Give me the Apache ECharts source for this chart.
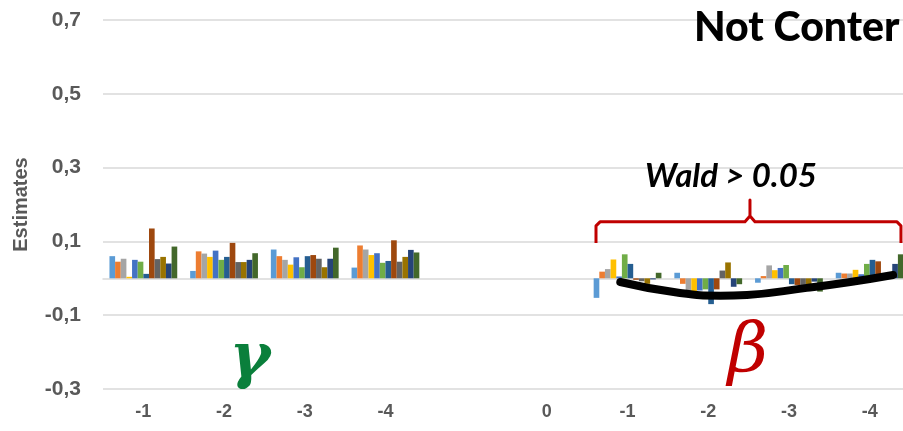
<!DOCTYPE html>
<html>
<head>
<meta charset="utf-8">
<script src="https://cdn.jsdelivr.net/npm/echarts@6/dist/echarts.min.js"></script>
<style>
html,body{margin:0;padding:0;background:#fff;overflow:hidden;}
#c{width:910px;height:431px;}
</style>
</head>
<body>
<div id="c"></div>
<script>
// Categories (gamma lags, gap, beta lags)
const categories = ['-1', '-2', '-3', '-4', '', '0', '-1', '-2', '-3', '-4'];
const yTicks = { min: -0.3, max: 0.7, interval: 0.2 };

// Series values (12 series, Excel palette)
const s1  = [0.060, 0.020, 0.078, 0.029, null, null, -0.053,  0.015, -0.012, 0.015];
const s2  = [0.045, 0.073, 0.060, 0.089, null, null,  0.018, -0.015,  0.006, 0.013];
const s3  = [0.053, 0.067, 0.050, 0.078, null, null,  0.025, -0.036,  0.035, 0.013];
const s4  = [0.004, 0.058, 0.037, 0.063, null, null,  0.051, -0.036,  0.022, 0.023];
const s5  = [0.050, 0.075, 0.057, 0.068, null, null,  0.005, -0.033,  0.028, 0.011];
const s6  = [0.045, 0.050, 0.030, 0.042, null, null,  0.065, -0.030,  0.036, 0.039];
const s7  = [0.012, 0.058, 0.060, 0.047, null, null,  0.039, -0.070, -0.016, 0.050];
const s8  = [0.135, 0.096, 0.063, 0.103, null, null, -0.004, -0.030, -0.018, 0.046];
const s9  = [0.052, 0.044, 0.053, 0.045, null, null, -0.008,  0.021, -0.018, 0.005];
const s10 = [0.058, 0.044, 0.030, 0.058, null, null, -0.015,  0.043, -0.016, 0.005];
const s11 = [0.040, 0.050, 0.053, 0.077, null, null, -0.003, -0.023, -0.009, 0.039];
const s12 = [0.086, 0.068, 0.083, 0.070, null, null,  0.015, -0.016, -0.036, 0.065];
const seriesValues = [s1, s2, s3, s4, s5, s6, s7, s8, s9, s10, s11, s12];
const seriesNames = ['Series 1','Series 2','Series 3','Series 4','Series 5','Series 6','Series 7','Series 8','Series 9','Series 10','Series 11','Series 12'];

// Annotation paths in data units [category position, estimate]
const trendCurve = [[5.91, -0.010], [6.65, -0.040], [7.15, -0.047], [7.48, -0.045], [8.22, -0.026], [8.76, -0.010], [9.29, 0.009]];
const bracePath = [[5.609, 0.096], [5.609, 0.142], [5.659, 0.153], [7.455, 0.153], [7.517, 0.169], [7.517, 0.212], [7.517, 0.169], [7.579, 0.153], [9.339, 0.153], [9.388, 0.142], [9.388, 0.096]];

const colors = ['#5B9BD5','#ED7D31','#A5A5A5','#FFC000','#4472C4','#70AD47','#255E91','#9E480E','#636363','#997300','#264478','#43682B'];

const chart = echarts.init(document.getElementById('c'), null, { renderer: 'canvas' });

const series = seriesValues.map((vals, i) => ({
  name: seriesNames[i],
  type: 'bar',
  xAxisIndex: 0,
  yAxisIndex: 0,
  data: vals,
  barGap: '0%',
  barCategoryGap: '16%',
  itemStyle: { color: colors[i] },
  emphasis: { disabled: true },
  z: 2
}));

series.push({
  name: 'trend',
  type: 'line',
  xAxisIndex: 1,
  yAxisIndex: 0,
  data: trendCurve,
  smooth: true,
  symbol: 'none',
  lineStyle: { color: '#000', width: 8, cap: 'round' },
  z: 5
});
series.push({
  name: 'brace',
  type: 'line',
  xAxisIndex: 1,
  yAxisIndex: 0,
  data: bracePath,
  smooth: false,
  symbol: 'none',
  lineStyle: { color: '#C00000', width: 3, join: 'round' },
  z: 5
});

const fam = 'Liberation Sans, sans-serif';

chart.setOption({
  animation: false,
  backgroundColor: '#fff',
  grid: { left: 103, top: 20, right: 0, height: 369, containLabel: false },
  xAxis: [
    {
      type: 'category',
      data: categories,
      position: 'bottom',
      axisLine: { show: false, onZero: false },
      axisTick: { show: false },
      splitLine: { show: false },
      axisLabel: { margin: 14, interval: 0, color: '#595959', fontWeight: 'bold', fontSize: 18, fontFamily: fam }
    },
    {
      type: 'value',
      min: -0.5,
      max: 9.5,
      show: true,
      position: 'bottom',
      axisLine: { show: true, onZero: true, lineStyle: { color: '#D9D9D9', width: 1.5 } },
      axisTick: { show: false },
      axisLabel: { show: false },
      splitLine: { show: false }
    }
  ],
  yAxis: {
    type: 'value',
    min: yTicks.min,
    max: yTicks.max,
    interval: yTicks.interval,
    name: 'Estimates',
    nameLocation: 'middle',
    nameGap: 72,
    nameTextStyle: { color: '#595959', fontWeight: 'bold', fontSize: 20, fontFamily: fam },
    axisLine: { show: false },
    axisTick: { show: false },
    splitLine: { show: true, lineStyle: { color: '#D9D9D9', width: 1.5 } },
    axisLabel: {
      margin: 22,
      color: '#595959', fontWeight: 'bold', fontSize: 21, fontFamily: fam,
      formatter: v => (Math.round(v * 10) / 10).toFixed(1).replace('.', ',')
    }
  },
  series: series,
  graphic: [
    {
      type: 'text', left: 694, top: 7, z: 10,
      style: { text: 'Not Conter', fill: '#000', font: '900 41px Lato, "DejaVu Sans", sans-serif' }
    },
    {
      type: 'text', x: 731, y: 176, z: 10,
      style: { text: 'Wald > 0.05', fill: '#000', font: 'italic bold 33px Lato, "DejaVu Sans", sans-serif', align: 'center', verticalAlign: 'middle' }
    },
    {
      type: 'text', x: 250, y: 360, z: 10,
      style: { text: 'γ', fill: '#0A7F3B', font: 'italic bold 62px "DejaVu Serif", serif', align: 'center', verticalAlign: 'middle' }
    },
    {
      type: 'text', x: 748, y: 354, z: 10,
      style: { text: 'β', fill: '#C00000', font: 'italic 70px "DejaVu Serif", serif', align: 'center', verticalAlign: 'middle' }
    }
  ]
});
</script>
</body>
</html>
